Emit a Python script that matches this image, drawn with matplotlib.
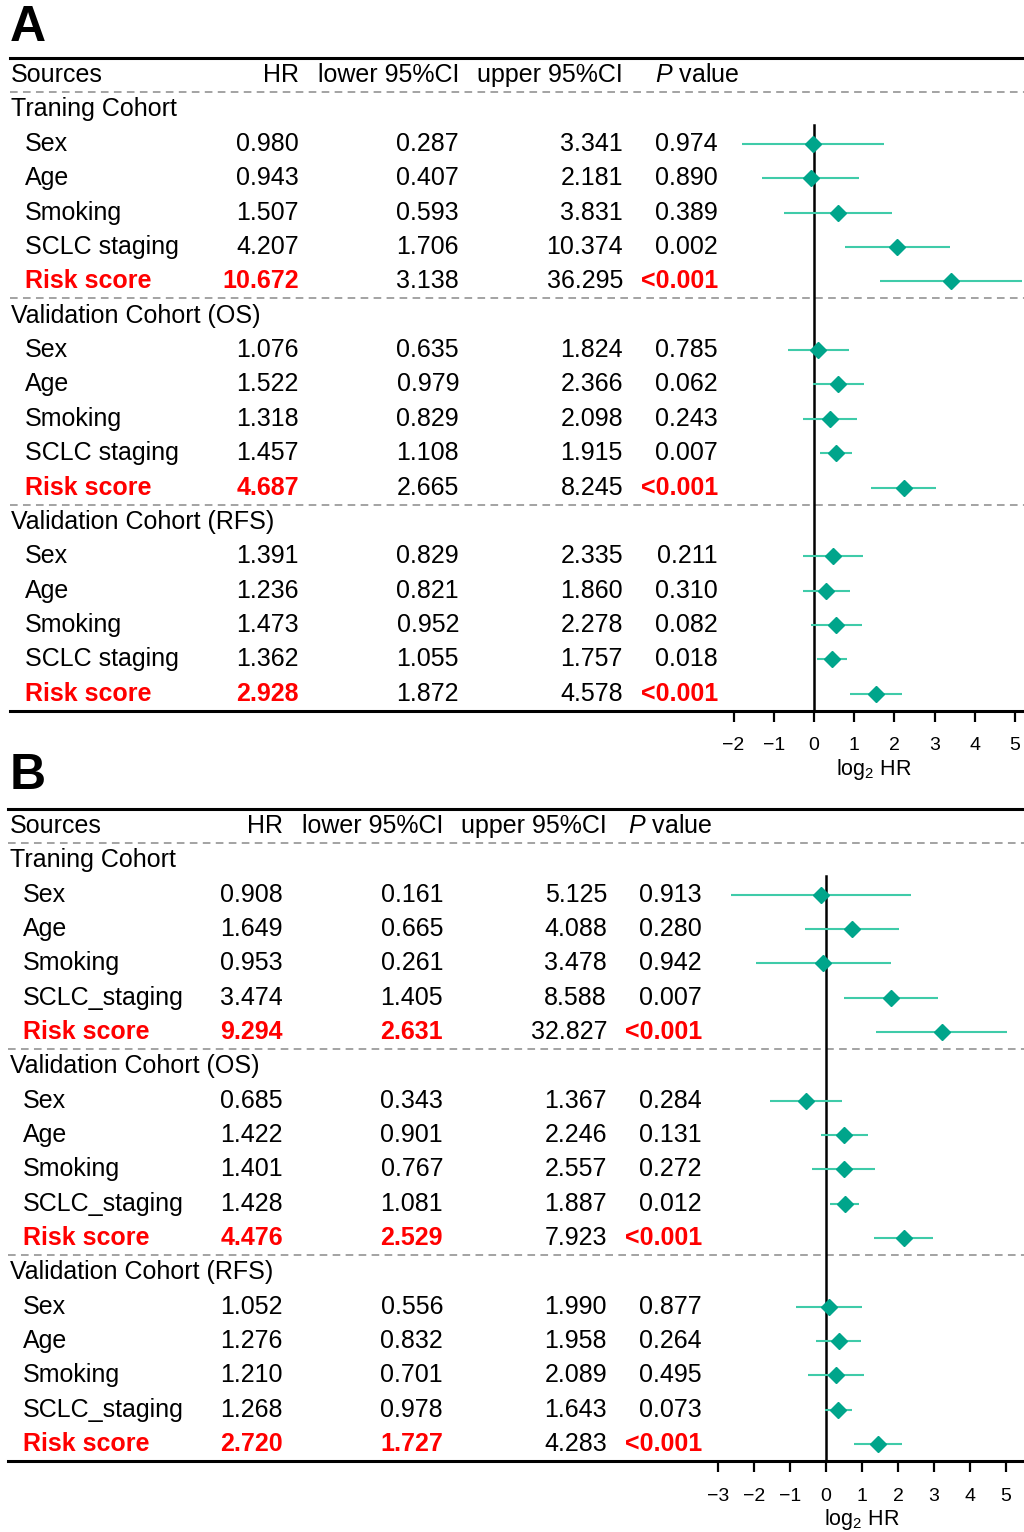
import numpy as np
import matplotlib
matplotlib.use("Agg")
import matplotlib.pyplot as plt

plt.rcParams['font.family'] = ['Liberation Sans', 'DejaVu Sans']
plt.rcParams['mathtext.fontset'] = 'custom'
plt.rcParams['mathtext.rm'] = 'Liberation Sans'
plt.rcParams['mathtext.it'] = 'Liberation Sans:italic'

# ---- data ----
cohorts = ["Traning Cohort", "Validation Cohort (OS)", "Validation Cohort (RFS)"]
variables_a = ["Sex", "Age", "Smoking", "SCLC staging", "Risk score"]
variables_b = ["Sex", "Age", "Smoking", "SCLC_staging", "Risk score"]

hr_a = [[0.980, 0.943, 1.507, 4.207, 10.672],
        [1.076, 1.522, 1.318, 1.457, 4.687],
        [1.391, 1.236, 1.473, 1.362, 2.928]]
lower_a = [[0.287, 0.407, 0.593, 1.706, 3.138],
           [0.635, 0.979, 0.829, 1.108, 2.665],
           [0.829, 0.821, 0.952, 1.055, 1.872]]
upper_a = [[3.341, 2.181, 3.831, 10.374, 36.295],
           [1.824, 2.366, 2.098, 1.915, 8.245],
           [2.335, 1.860, 2.278, 1.757, 4.578]]
p_a = [["0.974", "0.890", "0.389", "0.002", "<0.001"],
       ["0.785", "0.062", "0.243", "0.007", "<0.001"],
       ["0.211", "0.310", "0.082", "0.018", "<0.001"]]

hr_b = [[0.908, 1.649, 0.953, 3.474, 9.294],
        [0.685, 1.422, 1.401, 1.428, 4.476],
        [1.052, 1.276, 1.210, 1.268, 2.720]]
lower_b = [[0.161, 0.665, 0.261, 1.405, 2.631],
           [0.343, 0.901, 0.767, 1.081, 2.529],
           [0.556, 0.832, 0.701, 0.978, 1.727]]
upper_b = [[5.125, 4.088, 3.478, 8.588, 32.827],
           [1.367, 2.246, 2.557, 1.887, 7.923],
           [1.990, 1.958, 2.089, 1.643, 4.283]]
p_b = [["0.913", "0.280", "0.942", "0.007", "<0.001"],
       ["0.284", "0.131", "0.272", "0.012", "<0.001"],
       ["0.877", "0.264", "0.495", "0.073", "<0.001"]]

ticks_a = [-2, -1, 0, 1, 2, 3, 4, 5]
ticks_b = [-3, -2, -1, 0, 1, 2, 3, 4, 5]

W, H = 1024, 1532
RED = '#FF0000'
LINE_C = '#3FCBA9'
DOT_C = '#00A58B'
FS = 18

fig = plt.figure(figsize=(W / 100, H / 100), dpi=100)


def draw_panel(letter, letter_y, top, bottom, left, zero_px, unit_px, cols,
               variables, hr, lower, upper, pvals, ticks, red_lower):
    ax = fig.add_axes([left / W, 1 - bottom / H, (W - left) / W, (bottom - top) / H])
    n_rows = 1 + len(cohorts) * (1 + len(variables))
    ax.set_ylim(n_rows - 0.5, -0.5)
    ax.set_xlim((left - zero_px) / unit_px, (W - zero_px) / unit_px)
    trans = ax.get_yaxis_transform()

    def fx(px):
        return (px - left) / (W - left)

    # header row
    ax.text(fx(cols['name']), 0, "Sources", fontsize=FS, va='center', ha='left', transform=trans)
    ax.text(fx(cols['hr']), 0, "HR", fontsize=FS, va='center', ha='right', transform=trans)
    ax.text(fx(cols['lo']), 0, "lower 95%CI", fontsize=FS, va='center', ha='right', transform=trans)
    ax.text(fx(cols['up']), 0, "upper 95%CI", fontsize=FS, va='center', ha='right', transform=trans)
    ax.text(fx(cols['phead']), 0, r"$\it{P}$ value", fontsize=FS, va='center', ha='left', transform=trans)
    ax.axhline(0.5, color='#8a8a8a', lw=1.1, ls=(0, (5, 3.5)))

    row = 1
    for g, cohort in enumerate(cohorts):
        ax.text(fx(cols['name']), row, cohort, fontsize=FS, va='center', ha='left', transform=trans)
        row += 1
        for i, var in enumerate(variables):
            risk = var == "Risk score"
            c = RED if risk else 'black'
            w = 'bold' if risk else 'normal'
            ax.text(fx(cols['var']), row, var, fontsize=FS, va='center', ha='left',
                    color=c, fontweight=w, transform=trans)
            ax.text(fx(cols['hr']), row, f"{hr[g][i]:.3f}", fontsize=FS, va='center', ha='right',
                    color=c, fontweight=w, transform=trans)
            lc = c if red_lower else 'black'
            lw_ = w if red_lower else 'normal'
            ax.text(fx(cols['lo']), row, f"{lower[g][i]:.3f}", fontsize=FS, va='center', ha='right',
                    color=lc, fontweight=lw_, transform=trans)
            ax.text(fx(cols['up']), row, f"{upper[g][i]:.3f}", fontsize=FS, va='center', ha='right',
                    transform=trans)
            ax.text(fx(cols['p']), row, pvals[g][i], fontsize=FS, va='center', ha='right',
                    color=c, fontweight=w, transform=trans)
            x = np.log2(hr[g][i])
            ax.plot([np.log2(lower[g][i]), np.log2(upper[g][i])], [row, row],
                    color=LINE_C, lw=1.5, solid_capstyle='butt', zorder=3)
            ax.plot(x, row, marker='D', ms=8.5, color=DOT_C, mec=DOT_C, zorder=4)
            row += 1
        if g < len(cohorts) - 1:
            ax.axhline(row - 0.5, color='#8a8a8a', lw=1.1, ls=(0, (5, 3.5)))

    ax.plot([0, 0], [1.45, n_rows - 0.5], color='black', lw=1.8, zorder=2)

    for s in ['left', 'right']:
        ax.spines[s].set_visible(False)
    ax.spines['top'].set_linewidth(2.2)
    ax.spines['bottom'].set_linewidth(2.2)
    ax.set_yticks([])
    ax.set_xticks(ticks)
    ax.tick_params(axis='x', direction='out', length=8, width=1.6, labelsize=14, pad=11)
    ax.text(np.mean([ticks[0], ticks[-1]]), n_rows - 0.5 + 1.7, r"log$_2$ HR", fontsize=15.5,
            ha='center', va='center')
    fig.text(10 / W, 1 - letter_y / H, letter, fontsize=36, fontweight='bold', va='center', ha='left')


draw_panel("A", 28, 57.8, 711.0, 10, 814, 40.2,
           dict(name=11, var=25, hr=299, lo=459, up=623, p=718, phead=655),
           variables_a, hr_a, lower_a, upper_a, p_a, ticks_a, False)

draw_panel("B", 776, 808.8, 1461.2, 8, 826, 36.0,
           dict(name=10, var=23, hr=283, lo=443, up=607, p=702, phead=628),
           variables_b, hr_b, lower_b, upper_b, p_b, ticks_b, True)

fig.savefig("out.png", dpi=100)
